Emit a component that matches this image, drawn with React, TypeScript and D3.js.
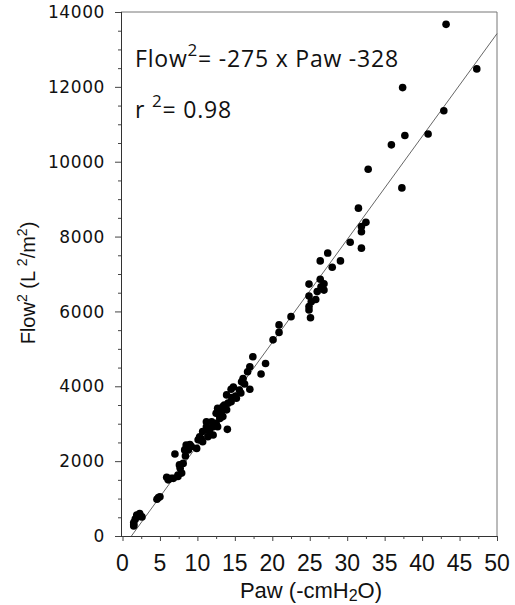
import React, { useEffect, useRef } from "react";
import * as d3 from "d3";

// Paw (-cmH2O) and Flow^2 (L^2/m^2)
const paw = [
  43.2, 47.3, 37.4, 42.9, 37.7, 40.8, 35.9, 32.8, 37.3, 31.5,
  32.5, 31.9, 31.9, 30.4, 31.9, 27.4, 26.4, 29.1, 28.0, 24.9,
  26.4, 26.9, 26.5, 26.9, 26.0, 24.9, 25.8, 25.2, 24.9, 24.9,
  25.1, 22.5, 20.9, 20.9, 20.1, 17.4, 19.1, 17.0, 16.7, 18.5,
  16.1, 15.9, 17.0, 14.5, 15.6, 13.9, 15.1, 14.6, 15.2, 14.1,
  14.5, 12.7, 13.4, 12.5, 13.2, 13.9, 13.0, 13.4, 11.2, 11.9,
  12.5, 11.2, 12.1, 12.7, 14.0, 10.7, 11.6, 10.3, 11.4, 12.1,
  10.1, 10.7, 9.2, 9.9, 8.5, 9.0, 8.3, 8.8, 8.4, 7.0,
  8.1, 7.7, 7.9, 7.4, 6.8, 6.1, 5.9, 6.5, 7.4, 4.8,
  4.6, 5.0, 2.3, 1.9, 1.7, 1.5, 1.5, 2.3, 1.5, 2.6,
  7.6, 14.8, 16.3, 12.9, 11.7, 15.8, 13.6, 10.5,
];
const flow2 = [
  13670, 12480, 11980, 11360, 10700, 10740, 10450, 9800, 9300, 8760,
  8380, 8270, 8130, 7850, 7690, 7560, 7350, 7350, 7180, 6730,
  6860, 6740, 6660, 6570, 6530, 6410, 6320, 6260, 6130, 6040,
  5830, 5860, 5640, 5440, 5240, 4790, 4610, 4520, 4390, 4330,
  4210, 4120, 3920, 3920, 3900, 3770, 3740, 3700, 3680, 3550,
  3590, 3410, 3460, 3280, 3320, 3370, 3140, 3190, 3050, 3050,
  3010, 2920, 2920, 2920, 2850, 2790, 2790, 2650, 2650, 2700,
  2570, 2520, 2390, 2340, 2430, 2440, 2300, 2300, 2140, 2190,
  1940, 1810, 1680, 1590, 1540, 1500, 1570, 1540, 1630, 1030,
  980, 1050, 600, 560, 450, 360, 270, 520, 300, 510,
  1900, 3980, 4060, 3230, 2880, 3820, 3500, 2600,
];

// regression: Flow^2 = 275 x Paw - 328
const slope = 275;
const intercept = -328;

const xTicks = [0, 5, 10, 15, 20, 25, 30, 35, 40, 45, 50];
const yTicks = [0, 2000, 4000, 6000, 8000, 10000, 12000, 14000];

const App = () => {
  const svgRef = useRef<SVGSVGElement>(null);

  useEffect(() => {
    const svg = d3.select(svgRef.current);
    svg.selectAll("*").remove();

    const left = 121, right = 497, top = 12, bottom = 536;

    const x = d3.scaleLinear().domain([0, 50]).range([left + 1.5, right]);
    const y = d3.scaleLinear().domain([0, 14000]).range([bottom, top]);

    // frame (top and right)
    svg.append("path")
      .attr("d", `M${left},${top}H${right}V${bottom}`)
      .attr("fill", "none")
      .attr("stroke", "#777")
      .attr("stroke-width", 1);

    // x axis
    const xAxis = svg.append("g").attr("transform", `translate(0,${bottom})`);
    xAxis.call(
      d3.axisBottom(x).tickValues(d3.range(0, 50.1, 2.5)).tickSize(4).tickFormat(() => "")
    );
    xAxis.select(".domain").attr("d", `M${left - 6},0.5H${right}`).attr("stroke", "#333");
    xAxis.selectAll(".tick line").attr("stroke", "#444")
      .attr("y2", (d: any) => (d % 5 === 0 ? 5 : 3));

    xAxis.selectAll(".lbl")
      .data(xTicks)
      .enter().append("text")
      .attr("x", d => x(d))
      .attr("y", 35)
      .attr("text-anchor", "middle")
      .attr("font-family", "Liberation Sans")
      .attr("font-size", 23)
      .attr("fill", "#111")
      .text(d => d);

    // y axis
    const yAxis = svg.append("g").attr("transform", `translate(${left},0)`);
    yAxis.call(
      d3.axisLeft(y).tickValues(d3.range(0, 14001, 500)).tickSize(6).tickFormat(() => "")
    );
    yAxis.select(".domain").attr("d", `M0.5,${top}V${bottom}`).attr("stroke", "#333");
    yAxis.selectAll(".tick line").attr("stroke", "#444")
      .attr("x2", (d: any) => (d % 2000 === 0 ? -6 : -3));

    yAxis.selectAll(".lbl")
      .data(yTicks)
      .enter().append("text")
      .attr("x", -16)
      .attr("y", d => y(d))
      .attr("dy", "0.36em")
      .attr("text-anchor", "end")
      .attr("font-family", "DejaVu Sans")
      .attr("font-size", 17)
      .attr("letter-spacing", 0.6)
      .attr("fill", "#111")
      .text(d => d);

    // regression line
    const x0 = -intercept / slope;
    const x1 = 50;
    svg.append("line")
      .attr("x1", x(x0)).attr("y1", y(0))
      .attr("x2", x(x1)).attr("y2", y(slope * x1 + intercept))
      .attr("stroke", "#555")
      .attr("stroke-width", 0.9);

    // points
    svg.append("g")
      .selectAll("circle")
      .data(paw.map((p, i) => [p, flow2[i]]))
      .enter().append("circle")
      .attr("cx", d => x(d[0]))
      .attr("cy", d => y(d[1]))
      .attr("r", 3.8)
      .attr("fill", "#000");

    // annotation
    const eq = svg.append("text")
      .attr("x", 135).attr("y", 67)
      .attr("font-family", "Open Sans")
      .attr("font-size", 23)
      .attr("letter-spacing", 0.8)
      .attr("fill", "#111");
    eq.append("tspan").text("Flow");
    eq.append("tspan").attr("dy", -11).attr("font-size", 17).text("2");
    eq.append("tspan").attr("dy", 11).text("= -275 x Paw -328");

    const r2 = svg.append("text")
      .attr("x", 135).attr("y", 118)
      .attr("font-family", "Open Sans")
      .attr("font-size", 23)
      .attr("letter-spacing", 0.8)
      .attr("fill", "#111");
    r2.append("tspan").text("r ");
    r2.append("tspan").attr("dy", -11).attr("font-size", 17).text("2");
    r2.append("tspan").attr("dy", 11).text("= 0.98");

    // x label
    const xl = svg.append("text")
      .attr("x", 311).attr("y", 598)
      .attr("text-anchor", "middle")
      .attr("font-family", "Liberation Sans")
      .attr("font-size", 22)
      .attr("fill", "#111");
    xl.append("tspan").text("Paw (-cmH");
    xl.append("tspan").attr("dy", 3).attr("font-size", 16).text("2");
    xl.append("tspan").attr("dy", -3).text("O)");

    // y label
    const yl = svg.append("text")
      .attr("transform", "translate(35,283) rotate(-90)")
      .attr("text-anchor", "middle")
      .attr("font-family", "Liberation Sans")
      .attr("font-size", 20)
      .attr("fill", "#111");
    yl.append("tspan").text("Flow");
    yl.append("tspan").attr("dy", -8).attr("font-size", 14).text("2");
    yl.append("tspan").attr("dy", 8).text(" (L ");
    yl.append("tspan").attr("dy", -8).attr("font-size", 14).text("2");
    yl.append("tspan").attr("dy", 8).text("/m");
    yl.append("tspan").attr("dy", -8).attr("font-size", 14).text("2");
    yl.append("tspan").attr("dy", 8).text(")");
  }, []);

  return (
    <svg
      ref={svgRef}
      width={515}
      height={605}
      style={{ position: "absolute", left: 0, top: 0, background: "#fff" }}
    />
  );
};

export default App;
